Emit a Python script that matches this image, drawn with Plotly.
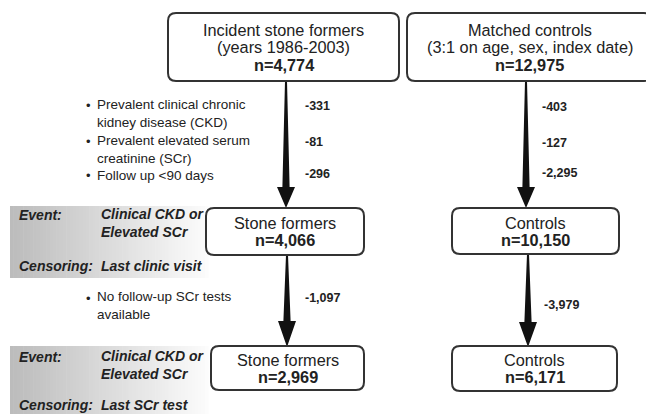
import plotly.graph_objects as go

# ---- data ----
stone_titles = ["Incident stone formers<br>(years 1986-2003)", "Stone formers", "Stone formers"]
stone_counts = [4774, 4066, 2969]
control_titles = ["Matched controls<br>(3:1 on age, sex, index date)", "Controls", "Controls"]
control_counts = [12975, 10150, 6171]
exclusion_reasons_1 = ["Prevalent clinical chronic<br>kidney disease (CKD)",
                       "Prevalent elevated serum<br>creatinine (SCr)",
                       "Follow up <90 days"]
exclusion_reasons_2 = ["No follow-up SCr tests<br>available"]
stone_excluded_1 = [331, 81, 296]
control_excluded_1 = [403, 127, 2295]
stone_excluded_2 = [1097]
control_excluded_2 = [3979]
event_label = "Event:"
event_text = "Clinical CKD or<br>Elevated SCr"
censor_label = "Censoring:"
censor_texts = ["Last clinic visit", "Last SCr test"]

W, H = 654, 414
PAD = 8  # page body margin compensation
FONT = "Liberation Sans, Arial, sans-serif"
TXT = "#222222"
LINE = "#333333"

fig = go.Figure()
shapes = []
annotations = []


def rrect(x0, y0, x1, y1, r=8):
    return (f"M {x0+r},{y0} L {x1-r},{y0} Q {x1},{y0} {x1},{y0+r} "
            f"L {x1},{y1-r} Q {x1},{y1} {x1-r},{y1} L {x0+r},{y1} "
            f"Q {x0},{y1} {x0},{y1-r} L {x0},{y0+r} Q {x0},{y0} {x0+r},{y0} Z")


def box(x0, y0, x1, y1, title, n, line_gap):
    shapes.append(dict(type="path", path=rrect(x0, y0, x1, y1), xref="x", yref="y",
                       line=dict(color=LINE, width=2), fillcolor="white", layer="above"))
    cx = (x0 + x1) / 2
    lines = title.split("<br>")
    nlines = len(lines) + 1
    ys = [(y0 + y1) / 2 + (i - (nlines - 1) / 2) * line_gap for i in range(nlines)]
    for yy, t in zip(ys, lines + [f"<b>n={n:,}</b>"]):
        annotations.append(dict(x=cx, y=yy, text=t, showarrow=False, xanchor="center",
                                yanchor="middle", font=dict(family=FONT, size=16.3, color=TXT)))


def arrow(x, y_top, y_head, y_tip, w_top=1.0, w_bot=3.6, head=9):
    p = (f"M {x-w_top},{y_top} L {x+w_top},{y_top} L {x+w_bot},{y_head} L {x+head},{y_head} "
         f"L {x},{y_tip} L {x-head},{y_head} L {x-w_bot},{y_head} Z")
    shapes.append(dict(type="path", path=p, xref="x", yref="y", line=dict(width=0),
                       fillcolor="#111111", layer="below"))


def gradient_band(y0, y1, x0=10, x1=208, n=60):
    for i in range(n):
        f = i / (n - 1)
        c = int(188 + (252 - 188) * f)
        xa = x0 + (x1 - x0) * i / n
        xb = x0 + (x1 - x0) * (i + 1) / n + 0.6
        shapes.append(dict(type="rect", x0=xa, x1=xb, y0=y0, y1=y1, xref="x", yref="y",
                           line=dict(width=0), fillcolor=f"rgb({c},{c},{c})", layer="below"))


def text(x, y, t, size=13, anchor="left", bold=False, italic=False):
    if italic:
        t = f"<i>{t}</i>"
    if bold:
        t = f"<b>{t}</b>"
    annotations.append(dict(x=x, y=y, text=t, showarrow=False, xanchor=anchor, yanchor="middle",
                            align="left", font=dict(family=FONT, size=size, color=TXT)))


# gradient panels
gradient_band(206, 278)
gradient_band(346, 414)

# arrows
arrow(286, 81, 187, 208)
arrow(526, 81, 187, 208)
arrow(287, 255, 321, 347)
arrow(528, 254, 322, 347)

# boxes
box(168, 13, 399, 81, stone_titles[0], stone_counts[0], 17.5)
box(407, 13, 652, 81, control_titles[0], control_counts[0], 17.5)
box(206, 208, 364, 255, stone_titles[1], stone_counts[1], 17)
box(452, 208, 619, 254, control_titles[1], control_counts[1], 17)
box(211, 346, 364, 390, stone_titles[2], stone_counts[2], 17)
box(452, 346, 617, 391, control_titles[2], control_counts[2], 17)

# exclusion bullets
ys1 = [113, 149, 175]
for yy, reason in zip(ys1, exclusion_reasons_1):
    text(84, yy - (8 if "<br>" in reason else 0), "•", size=13)
    text(95, yy, reason, size=13.5)
ys1n = [106, 142, 174]
for yy, v in zip(ys1n, stone_excluded_1):
    text(303, yy, f"-{v:,}", size=12.5, bold=True)
ys1c = [107, 143, 173]
for yy, v in zip(ys1c, control_excluded_1):
    text(540, yy, f"-{v:,}", size=12.5, bold=True)

text(84, 298, "•", size=13)
text(95, 305, exclusion_reasons_2[0], size=13.5)
text(303, 298, f"-{stone_excluded_2[0]:,}", size=12.5, bold=True)
text(542, 305, f"-{control_excluded_2[0]:,}", size=12.5, bold=True)

# event / censoring panels
for ev_y, cen_y, cen_t in [(215, 266, censor_texts[0]), (357, 405, censor_texts[1])]:
    text(17, ev_y, event_label, size=14, bold=True, italic=True)
    text(99, ev_y + 8, event_text, size=14, bold=True, italic=True)
    text(17, cen_y, censor_label, size=14, bold=True, italic=True)
    text(99, cen_y, cen_t, size=14, bold=True, italic=True)

fig.update_layout(
    width=W - PAD, height=H - PAD, margin=dict(l=0, r=0, t=0, b=0),
    paper_bgcolor="white", plot_bgcolor="white",
    xaxis=dict(range=[PAD, W], visible=False, fixedrange=True),
    yaxis=dict(range=[H, PAD], visible=False, fixedrange=True),
    shapes=shapes, annotations=annotations, showlegend=False,
)
fig.write_html("out.html")
